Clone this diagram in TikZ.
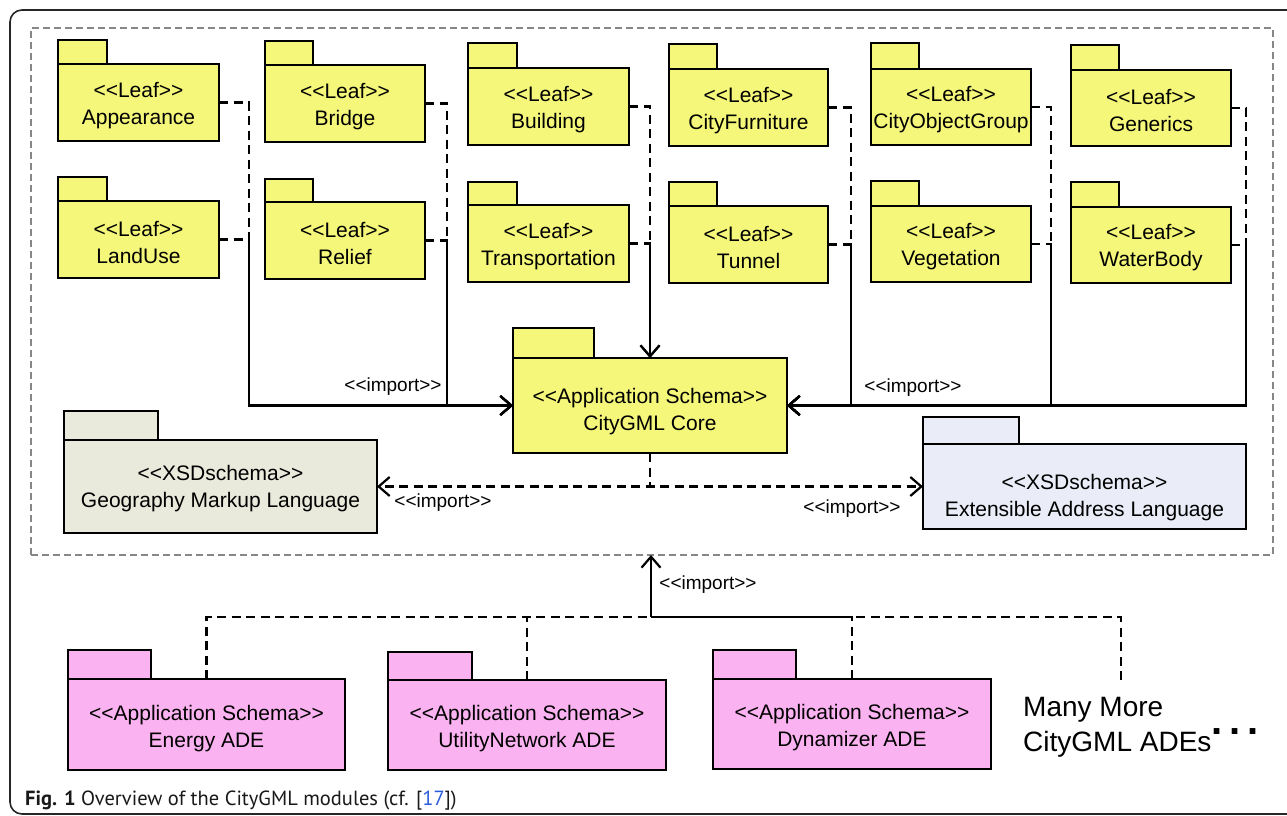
\documentclass[tikz,border=0pt]{standalone}
\usepackage{fontspec}
\setmainfont{Liberation Sans}[Ligatures=TeXOff]
\newfontfamily\capfont{PT Sans}[Ligatures=TeXOff]
\usetikzlibrary{arrows.meta}
\definecolor{leafY}{RGB}{245,247,122}
\definecolor{gmlC}{RGB}{233,234,220}
\definecolor{ealC}{RGB}{234,237,247}
\definecolor{adeP}{RGB}{250,178,240}
\definecolor{frameG}{RGB}{135,135,135}
\definecolor{refB}{RGB}{40,90,220}
\tikzset{
 pkgline/.style={draw=black, line width=2.9pt, inner sep=0pt, outer sep=0pt},
 pkgtext/.style={font=\fontsize{21}{27}\selectfont, align=center, inner sep=0pt},
 dep/.style={line width=2.2pt, dash pattern=on 9pt off 5.5pt},
 solidc/.style={line width=2.2pt},
 imp/.style={-{Straight Barb[length=11pt,width=19pt,line width=2.2pt]}},
 lbl/.style={font=\fontsize{19}{22}\selectfont, inner sep=0pt},
}
\newcommand\pkgshift{0}
\newcommand\pkg[9]{%
 \node[pkgline, fill=#2, minimum width={(#5-#3)*1pt}, minimum height={(#7-#6)*1pt}] (#1-tab) at ({(#3+#5)/2},{(#6+#7)/2}) {};
 \node[pkgline, fill=#2, minimum width={(#4-#3)*1pt}, minimum height={(#8-#7)*1pt}] (#1) at ({(#3+#4)/2},{(#7+#8)/2}) {};
 \node[pkgtext] (#1-t) at ({(#3+#4)/2},{(#7+#8)/2+\pkgshift}) {#9};
}
\begin{document}
\begin{tikzpicture}[x=1pt,y=-1pt]
\useasboundingbox (0,0) rectangle (1287,816);
\clip (0,0) rectangle (1287,816);
\draw[line width=1.6pt, rounded corners=12pt, black!85] (1330,10) -- (10,10) -- (10,814) -- (1330,814);
\node[draw=frameG, line width=2.5pt, dash pattern=on 7pt off 4pt, minimum width=1242pt, minimum height=527pt, inner sep=0pt, outer sep=0pt] (frame) at (652,291.5) {};
% leaf packages
\renewcommand\pkgshift{3}
\pkg{app}{leafY}{58}{219}{107}{40}{64}{141}{<<Leaf>>\\Appearance}
\pkg{brg}{leafY}{265}{425}{313}{41}{65}{142}{<<Leaf>>\\Bridge}
\pkg{bld}{leafY}{468}{629}{517}{43}{68}{145}{<<Leaf>>\\Building}
\pkg{cfu}{leafY}{669}{828}{717}{44}{69}{146}{<<Leaf>>\\CityFurniture}
\pkg{cog}{leafY}{871}{1031}{919}{43}{69}{145}{<<Leaf>>\\CityObjectGroup}
\pkg{gen}{leafY}{1071}{1231}{1119}{45}{70}{146}{<<Leaf>>\\Generics}
\pkg{lus}{leafY}{58}{219}{107}{177}{201}{278}{<<Leaf>>\\LandUse}
\pkg{rel}{leafY}{265}{425}{313}{179}{202}{279}{<<Leaf>>\\Relief}
\pkg{trn}{leafY}{468}{629}{517}{182}{205}{282}{<<Leaf>>\\Transportation}
\pkg{tun}{leafY}{669}{828}{717}{182}{206}{283}{<<Leaf>>\\Tunnel}
\pkg{veg}{leafY}{871}{1031}{919}{181}{206}{282}{<<Leaf>>\\Vegetation}
\pkg{wat}{leafY}{1071}{1231}{1119}{182}{207}{283}{<<Leaf>>\\WaterBody}
% core and schemas
\renewcommand\pkgshift{6}
\pkg{core}{leafY}{513}{787}{594}{328}{358}{453}{<<Application Schema>>\\CityGML Core}
\renewcommand\pkgshift{2}
\pkg{gml}{gmlC}{64}{377}{158}{411}{440}{533}{<<XSDschema>>\\Geography Markup Language}
\renewcommand\pkgshift{11}
\pkg{eal}{ealC}{923}{1246}{1019}{417}{444}{529}{<<XSDschema>>\\Extensible Address Language}
\renewcommand\pkgshift{4}
\pkg{ene}{adeP}{68}{345}{151}{650}{679}{770}{<<Application Schema>>\\Energy ADE}
\pkg{utl}{adeP}{388}{666}{472}{652}{680}{770}{<<Application Schema>>\\UtilityNetwork ADE}
\pkg{dyn}{adeP}{713}{991}{796}{650}{679}{769}{<<Application Schema>>\\Dynamizer ADE}
% junctions
\coordinate (jA) at (249,405.5);
\coordinate (jB) at (447,405.5);
\coordinate (jC) at (851,405.5);
\coordinate (jD) at (1051,405.5);
\coordinate (jE) at (1246,405.5);
\draw[dep,imp] (app.east) -| (jA) -- (core.west);
\draw[dep,imp] (lus.east) -| (jA) -- (core.west);
\draw[dep,imp] (brg.east) -| (jB) -- (core.west);
\draw[dep,imp] (rel.east) -| (jB) -- (core.west);
\draw[dep,imp] (bld.east) -| (core.north);
\draw[dep,imp] (trn.east) -| (core.north);
\draw[dep,imp] (cfu.east) -| (jC) -- (core.east);
\draw[dep,imp] (tun.east) -| (jC) -- (core.east);
\draw[dep,imp] (cog.east) -| (jD) -- (core.east);
\draw[dep,imp] (veg.east) -| (jD) -- (core.east);
\draw[dep,imp] (gen.east) -| (jE) -- (core.east);
\draw[dep,imp] (wat.east) -| (jE) -- (core.east);
\draw[dep,imp] (core.south) |- (gml.east);
\draw[dep,imp] (core.south) |- (eal.west);
% ADE imports
\coordinate (J) at (651,617);
\coordinate (mmtop) at (1121,680);
\draw[dep] (ene.north) |- (J);
\draw[dep] (utl.north) -- (utl.north |- J);
\draw[dep] (dyn.north) |- (J);
\draw[dep] (mmtop) |- (J);
\draw[solidc,imp] (J) -- (J |- frame.south);
% labels
\node[lbl] (i1) at (393,387) {<<import>>};
\node[lbl] (i2) at (913,388) {<<import>>};
\node[lbl] (i3) at (443,503) {<<import>>};
\node[lbl] (i4) at (852,509) {<<import>>};
\node[lbl] (i5) at (708,585) {<<import>>};
\node[anchor=north west, inner sep=0pt, align=left, font=\fontsize{28}{35}\selectfont] (many) at (1023,697) {Many More\\CityGML ADEs\raisebox{17pt}{\fontsize{40}{40}\selectfont\bfseries .\hspace{7pt}.\hspace{7pt}.}};
\node[anchor=base west, inner sep=0pt, font=\capfont\fontsize{20.5}{24}\selectfont, text=black!90] (cap) at (25,805) {\textbf{Fig. 1} Overview of the CityGML modules (cf. [\textcolor{refB}{17}])};
\end{tikzpicture}
\end{document}
